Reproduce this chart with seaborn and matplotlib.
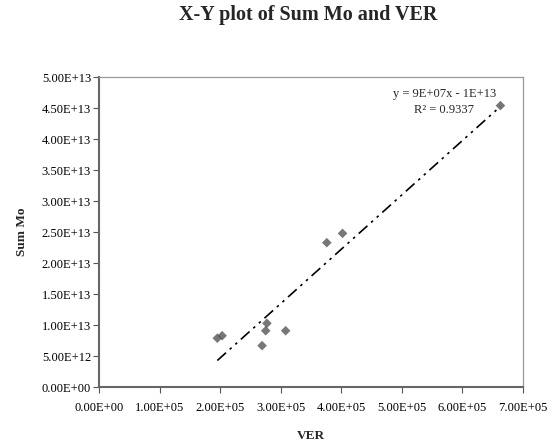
import matplotlib
matplotlib.use("Agg")
import matplotlib.pyplot as plt
import seaborn as sns
import numpy as np
import pandas as pd
from matplotlib.ticker import FuncFormatter, MultipleLocator

# Data
ver = [1.95e5, 2.03e5, 2.77e5, 2.75e5, 3.08e5, 2.69e5, 3.76e5, 4.02e5, 6.63e5]
sum_mo = [7.9e12, 8.3e12, 10.3e12, 9.1e12, 9.1e12, 6.7e12, 23.3e12, 24.8e12, 45.4e12]
title = "X-Y plot of Sum Mo and VER"
eq_text = "y = 9E+07x - 1E+13"
r2_text = "R\u00b2 = 0.9337"

df = pd.DataFrame({"VER": ver, "Sum Mo": sum_mo})

sns.set_theme(style="white")
plt.rcParams['font.family'] = ['Liberation Serif', 'DejaVu Serif']

fig = plt.figure(figsize=(5.55, 4.43), dpi=100)
ax = fig.add_axes([0.179, 0.126, 0.763, 0.700])

sns.regplot(data=df, x="VER", y="Sum Mo", ax=ax, ci=None,
            marker="D",
            scatter_kws=dict(s=24, color="#555555", edgecolors="none", zorder=3),
            line_kws=dict(color="black", linewidth=1.2,
                          linestyle=(0, (7, 3, 1.5, 3, 1.5, 3)), zorder=2))

ax.set_xlim(0, 7e5)
ax.set_ylim(0, 5e13)
ax.xaxis.set_major_locator(MultipleLocator(1e5))
ax.yaxis.set_major_locator(MultipleLocator(5e12))
fmt = FuncFormatter(lambda v, p: "{:.2E}".format(v))
ax.xaxis.set_major_formatter(fmt)
ax.yaxis.set_major_formatter(fmt)
ax.tick_params(axis="both", which="major", direction="out", length=4, width=0.8,
               color="#555555", labelsize=9, pad=2, labelcolor="black")
ax.tick_params(axis="x", pad=7)
ax.tick_params(bottom=True, left=True)

for side in ["top", "right"]:
    ax.spines[side].set_color("#9a9a9a")
    ax.spines[side].set_linewidth(0.9)
for side in ["left", "bottom"]:
    ax.spines[side].set_color("#666666")
    ax.spines[side].set_linewidth(1.5)

ax.set_xlabel("VER", fontsize=9.5, fontweight="bold", labelpad=11)
ax.set_ylabel("Sum Mo", fontsize=9.5, fontweight="bold", labelpad=10)

fig.text(0.556, 1 - 15 / 443, title, ha="center", va="center",
         fontsize=14.5, fontweight="bold")
ax.text(0.815, 0.945, eq_text, transform=ax.transAxes, ha="center", va="center", fontsize=9)
ax.text(0.815, 0.893, r2_text, transform=ax.transAxes, ha="center", va="center", fontsize=9)

fig.savefig("out.png", dpi=100)
